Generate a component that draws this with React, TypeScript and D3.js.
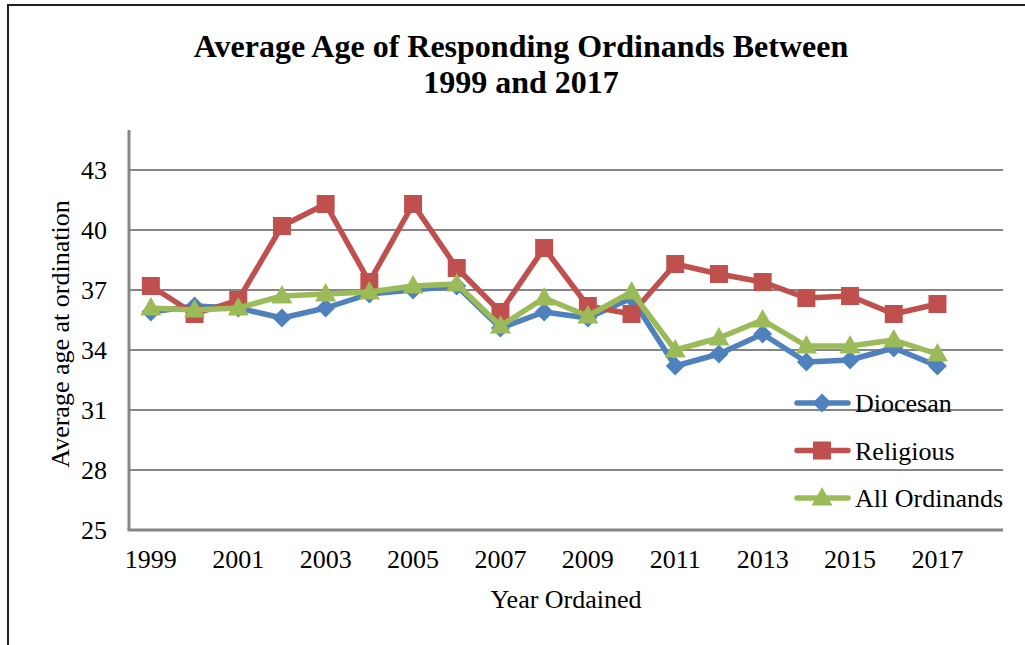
import React, { useEffect, useRef } from 'react';
import * as d3 from 'd3';

const years = [1999, 2000, 2001, 2002, 2003, 2004, 2005, 2006, 2007, 2008, 2009, 2010, 2011, 2012, 2013, 2014, 2015, 2016, 2017];
const diocesan = [35.9, 36.2, 36.1, 35.6, 36.1, 36.8, 37.0, 37.2, 35.1, 35.9, 35.6, 36.6, 33.2, 33.8, 34.8, 33.4, 33.5, 34.1, 33.2];
const religious = [37.2, 35.8, 36.5, 40.2, 41.3, 37.4, 41.3, 38.1, 35.9, 39.1, 36.2, 35.8, 38.3, 37.8, 37.4, 36.6, 36.7, 35.8, 36.3];
const allOrdinands = [36.1, 36.0, 36.1, 36.7, 36.8, 36.9, 37.2, 37.3, 35.2, 36.6, 35.7, 36.9, 34.0, 34.6, 35.5, 34.2, 34.2, 34.5, 33.8];
const yTicks = [25, 28, 31, 34, 37, 40, 43];
const xTickYears = [1999, 2001, 2003, 2005, 2007, 2009, 2011, 2013, 2015, 2017];

const seriesList = [
  { name: 'Diocesan', values: diocesan, color: '#4F81BD', marker: 'diamond' },
  { name: 'Religious', values: religious, color: '#C0504D', marker: 'square' },
  { name: 'All Ordinands', values: allOrdinands, color: '#9BBB59', marker: 'triangle' },
];

const font = '"Liberation Serif", "Times New Roman", serif';

const App = () => {
  const ref = useRef<SVGSVGElement>(null);

  useEffect(() => {
    const svg = d3.select(ref.current);
    svg.selectAll('*').remove();

    const left = 129, right = 1003, top = 130, bottom = 530;

    const x = d3.scaleLinear().domain([1998.5, 2018.5]).range([left, right]);
    const y = d3.scaleLinear().domain([25, 45]).range([bottom, top]);

    // outer frame (left and top only)
    svg.append('path')
      .attr('d', `M8,645 L8,5 L1025,5`)
      .attr('fill', 'none')
      .attr('stroke', '#231F20')
      .attr('stroke-width', 2);

    // title
    const title = svg.append('text')
      .attr('text-anchor', 'middle')
      .attr('font-family', font)
      .attr('font-weight', 'bold')
      .attr('font-size', 32)
      .attr('fill', '#000');
    title.append('tspan').attr('x', 521).attr('y', 57).text('Average Age of Responding Ordinands Between');
    title.append('tspan').attr('x', 521).attr('y', 93).text('1999 and 2017');

    // gridlines
    svg.append('g')
      .selectAll('line')
      .data(yTicks.filter(t => t > 25))
      .enter().append('line')
      .attr('x1', left).attr('x2', right)
      .attr('y1', d => y(d)).attr('y2', d => y(d))
      .attr('stroke', '#868686')
      .attr('stroke-width', 2);

    // axes lines
    svg.append('line')
      .attr('x1', left).attr('x2', left)
      .attr('y1', top).attr('y2', bottom)
      .attr('stroke', '#868686').attr('stroke-width', 3);
    svg.append('line')
      .attr('x1', left - 1.5).attr('x2', right)
      .attr('y1', bottom).attr('y2', bottom)
      .attr('stroke', '#868686').attr('stroke-width', 3);

    // y tick labels
    svg.append('g')
      .selectAll('text')
      .data(yTicks)
      .enter().append('text')
      .attr('x', 107)
      .attr('y', d => y(d) + 9)
      .attr('text-anchor', 'end')
      .attr('font-family', font)
      .attr('font-size', 26)
      .text(d => d);

    // x tick labels
    svg.append('g')
      .selectAll('text')
      .data(xTickYears)
      .enter().append('text')
      .attr('x', d => x(d))
      .attr('y', 568)
      .attr('text-anchor', 'middle')
      .attr('font-family', font)
      .attr('font-size', 26)
      .text(d => d);

    // axis titles
    svg.append('text')
      .attr('x', 566).attr('y', 608)
      .attr('text-anchor', 'middle')
      .attr('font-family', font)
      .attr('font-size', 26)
      .text('Year Ordained');
    svg.append('text')
      .attr('transform', 'translate(69,334) rotate(-90)')
      .attr('text-anchor', 'middle')
      .attr('font-family', font)
      .attr('font-size', 26)
      .text('Average age at ordination');

    const markerPath = (type: string) => {
      if (type === 'diamond') return 'M0,-9.5 L9.5,0 L0,9.5 L-9.5,0 Z';
      if (type === 'square') return 'M-9,-9 L9,-9 L9,9 L-9,9 Z';
      return 'M0,-11 L10.5,7.5 L-10.5,7.5 Z';
    };

    const line = d3.line<number>()
      .x((d, i) => x(years[i]))
      .y(d => y(d));

    seriesList.forEach(s => {
      const g = svg.append('g');
      g.append('path')
        .datum(s.values)
        .attr('fill', 'none')
        .attr('stroke', s.color)
        .attr('stroke-width', 5.5)
        .attr('stroke-linejoin', 'round')
        .attr('d', line);
      g.selectAll('path.m')
        .data(s.values)
        .enter().append('path')
        .attr('class', 'm')
        .attr('transform', (d, i) => `translate(${x(years[i])},${y(d)})`)
        .attr('d', markerPath(s.marker))
        .attr('fill', s.color);
    });

    // legend
    const legend = svg.append('g');
    seriesList.forEach((s, i) => {
      const cy = 403 + i * 47.5;
      legend.append('line')
        .attr('x1', 797).attr('x2', 848)
        .attr('y1', cy).attr('y2', cy)
        .attr('stroke', s.color).attr('stroke-width', 5.5)
        .attr('stroke-linecap', 'round');
      legend.append('path')
        .attr('transform', `translate(822,${cy})`)
        .attr('d', markerPath(s.marker))
        .attr('fill', s.color);
      legend.append('text')
        .attr('x', 855).attr('y', cy + 9)
        .attr('font-family', font)
        .attr('font-size', 26)
        .text(s.name);
    });
  }, []);

  return (
    <svg
      ref={ref}
      width={1025}
      height={645}
      style={{ position: 'absolute', left: 0, top: 0, background: '#fff' }}
    />
  );
};

export default App;
